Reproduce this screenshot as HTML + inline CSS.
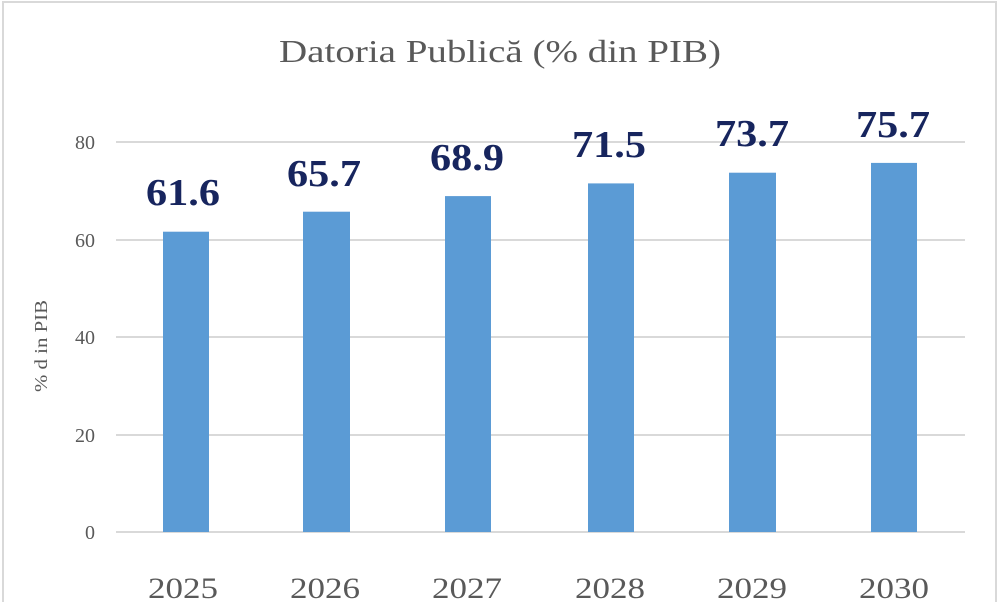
<!DOCTYPE html>
<html><head><style>html,body{margin:0;padding:0;background:#fff;overflow:hidden}</style></head>
<body>
<svg width="1000" height="602" xmlns="http://www.w3.org/2000/svg" font-family="'Liberation Serif',serif">
<rect x="3" y="2" width="993" height="610" fill="#fff" stroke="#d9d9d9" stroke-width="2"/>
<text x="500" y="62" text-anchor="middle" font-size="32" fill="#595959" textLength="442" lengthAdjust="spacingAndGlyphs">Datoria Publică (% din PIB)</text>
<g stroke="#d9d9d9" stroke-width="2">
<line x1="116" x2="965" y1="142" y2="142"/>
<line x1="116" x2="965" y1="240" y2="240"/>
<line x1="116" x2="965" y1="337" y2="337"/>
<line x1="116" x2="965" y1="435" y2="435"/>
<line x1="116" x2="965" y1="532" y2="532"/>
</g>
<g font-size="20" fill="#595959" text-anchor="end">
<text x="95" y="149">80</text><text x="95" y="247">60</text><text x="95" y="344">40</text><text x="95" y="442">20</text><text x="95" y="539">0</text>
</g>
<text transform="translate(47,346) rotate(-90)" text-anchor="middle" font-size="18" fill="#595959" textLength="92" lengthAdjust="spacingAndGlyphs">% d in PIB</text>
<g fill="#5b9bd5">
<rect x="163" y="231.7" width="46" height="300.3"/>
<rect x="303" y="211.7" width="47" height="320.3"/>
<rect x="445" y="196.1" width="46" height="335.9"/>
<rect x="588" y="183.4" width="46" height="348.6"/>
<rect x="729" y="172.7" width="47" height="359.3"/>
<rect x="871" y="162.9" width="46" height="369.1"/>
</g>
<g font-size="38" font-weight="bold" fill="#17255e" text-anchor="middle" lengthAdjust="spacingAndGlyphs">
<text x="183" y="205" textLength="74" lengthAdjust="spacingAndGlyphs">61.6</text><text x="324" y="186" textLength="74" lengthAdjust="spacingAndGlyphs">65.7</text><text x="467" y="170" textLength="74" lengthAdjust="spacingAndGlyphs">68.9</text>
<text x="609" y="157" textLength="74" lengthAdjust="spacingAndGlyphs">71.5</text><text x="752" y="146" textLength="74" lengthAdjust="spacingAndGlyphs">73.7</text><text x="893" y="137" textLength="74" lengthAdjust="spacingAndGlyphs">75.7</text>
</g>
<g font-size="30" fill="#595959" text-anchor="middle">
<text x="183" y="598" textLength="70" lengthAdjust="spacingAndGlyphs">2025</text><text x="325" y="598" textLength="70" lengthAdjust="spacingAndGlyphs">2026</text><text x="467" y="598" textLength="70" lengthAdjust="spacingAndGlyphs">2027</text>
<text x="610" y="598" textLength="70" lengthAdjust="spacingAndGlyphs">2028</text><text x="752" y="598" textLength="70" lengthAdjust="spacingAndGlyphs">2029</text><text x="894" y="598" textLength="70" lengthAdjust="spacingAndGlyphs">2030</text>
</g>
</svg>
</body></html>
